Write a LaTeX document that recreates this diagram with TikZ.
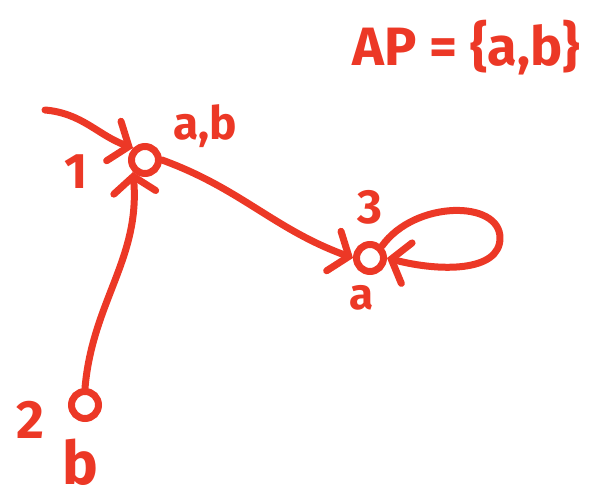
\documentclass[tikz,border=0pt]{standalone}
\usepackage{fontspec}
\setsansfont{Fira Sans}
\usetikzlibrary{arrows.meta}
\definecolor{pen}{RGB}{236,56,38}
\begin{document}
\begin{tikzpicture}[x=1pt,y=-1pt,
  state/.style={circle,draw=pen,line width=7pt,minimum size=27pt,inner sep=0pt},
  edge/.style={draw=pen,line width=7pt,line cap=round,line join=round,
    -{Straight Barb[length=16pt,width=42pt,line cap=round]}},
  lbl/.style={text=pen,inner sep=0pt,font=\sffamily\bfseries\fontsize{#1}{#1}\selectfont},
  lbl/.default=44]
\useasboundingbox (0,0) rectangle (600,502);
% states
\node[state] (s1) at (145,160) {};
\node[state] (s3) at (370,258) {};
\node[state] (s2) at (85,405) {};
% labels
\node[lbl=54] (ap) at (466,48) {AP = \{a,b\}};
\node[lbl=46] (l1ab) at (205,126) {a,b};
\node[lbl=50] (l1) at (76,172) {1};
\node[lbl=48] (l3) at (370,207) {3};
\node[lbl=44] (l3a) at (362,298) {a};
\node[lbl=54] (l2) at (30,420) {2};
\node[lbl=60] (l2b) at (80,462) {b};
% initial arrow
\coordinate (init) at (45,110);
\draw[edge] (init) to[out=-5,in=160] (s1.north west);
% edges
\draw[edge] (s2.north) to[out=85,in=-85] (s1.south west);
\draw[edge] (s1.east) to[out=-20,in=160] (s3.west);
\draw[edge] (s3.north east) .. controls (415,200) and (500,200) .. (500,238)
  .. controls (500,272) and (440,272) .. (s3.east);
\end{tikzpicture}
\end{document}
